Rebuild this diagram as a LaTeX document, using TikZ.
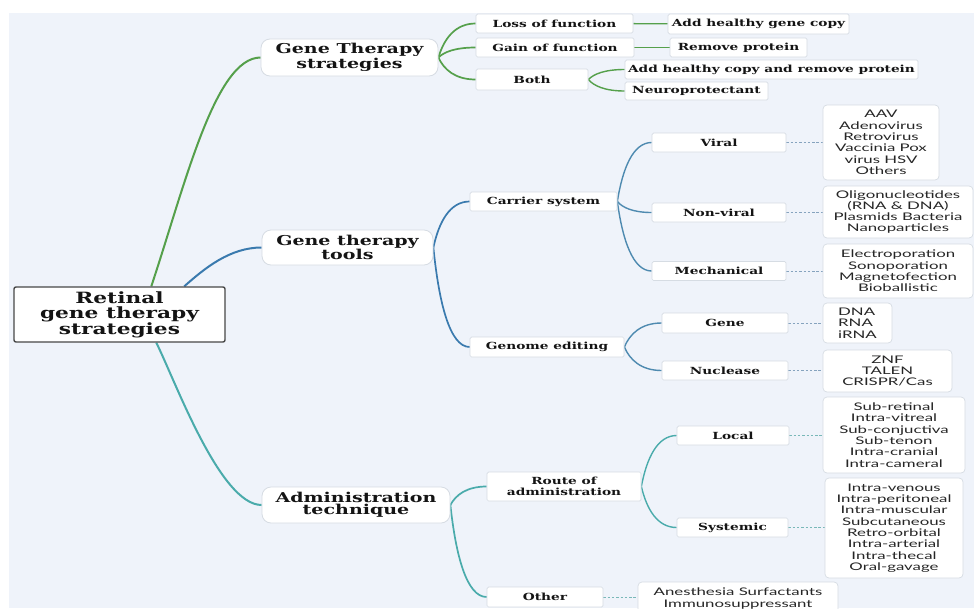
\documentclass[tikz,border=0pt]{standalone}
\usepackage{fontspec}
\usetikzlibrary{calc}
\newfontfamily\hdfont{DejaVu Serif}[FakeStretch=1.4]
\newfontfamily\lsfont{Lato}[FakeStretch=1.6]
\definecolor{cgreen}{HTML}{55A04B}
\definecolor{cblue}{HTML}{3A7AAE}
\definecolor{csteel}{HTML}{4E8AB0}
\definecolor{cteal}{HTML}{4AABAB}
\definecolor{cdash}{HTML}{86A3BE}
\definecolor{cdasht}{HTML}{79B8B8}
\definecolor{bgc}{HTML}{EFF3FA}
\definecolor{bord}{HTML}{D6DCE3}
\pgfdeclarelayer{back}
\pgfdeclarelayer{edges}
\pgfsetlayers{back,edges,main}
\tikzset{
  box/.style={fill=white, inner sep=0pt, align=center, text=black!92},
  rootbox/.style={box, draw=black!72, line width=1.4pt, rounded corners=2pt,
    font=\hdfont\bfseries\fontsize{15.5}{15}\selectfont},
  topic/.style={box, draw=bord, line width=0.8pt, rounded corners=9pt,
    font=\hdfont\bfseries\fontsize{13.6}{12}\selectfont},
  sub/.style={box, draw=bord, line width=0.7pt, rounded corners=1.5pt,
    font=\hdfont\bfseries\fontsize{9.8}{12}\selectfont},
  leaf/.style={box, draw=bord, line width=0.7pt, rounded corners=4pt,
    font=\lsfont\fontsize{10.5}{11.3}\selectfont, text=black!85},
  e1/.style={line width=2pt},
  e2/.style={line width=1.7pt},
  e3/.style={line width=1.4pt},
  dsh/.style={line width=1pt, dash pattern=on 2.5pt off 1.8pt},
}
\newcommand\mmcurve[3]{\draw[#1] let \p1=(#2.east), \p2=(#3.west) in (\p1) .. controls ({\x1+0.15*(\x2-\x1)},{\y1+0.55*(\y2-\y1)}) and ({\x1+0.45*(\x2-\x1)},{\y2}) .. (\p2);}
\begin{document}
\begin{tikzpicture}[x=1pt,y=-1pt]
\useasboundingbox (0,0) rectangle (974,608);
% ---------- nodes ----------
\node[rootbox, minimum width=211pt, minimum height=55pt] (root) at (119.5,314.5) {Retinal\\gene therapy\\strategies};
\node[topic, minimum width=177pt, minimum height=37pt] (gts) at (349.5,57.5) {Gene Therapy\\strategies};
\node[topic, minimum width=171pt, minimum height=35pt] (gtt) at (347.5,247.5) {Gene therapy\\tools};
\node[topic, minimum width=188pt, minimum height=36pt] (adm) at (356,505) {Administration\\technique};
% strategies
\node[sub, minimum width=157pt, minimum height=19pt] (loss) at (554.5,23.5) {Loss of function};
\node[sub, minimum width=158pt, minimum height=19pt] (gain) at (555,47.5) {Gain of function};
\node[sub, minimum width=112pt, minimum height=21pt] (both) at (532,79.5) {Both};
\node[sub, minimum width=181pt, minimum height=20pt] (addgene) at (758.5,24) {Add healthy gene copy};
\node[sub, minimum width=137pt, minimum height=19pt] (remove) at (738.5,47.5) {Remove protein};
\node[sub, minimum width=293pt, minimum height=19pt] (addboth) at (771.5,69.5) {Add healthy copy and remove protein};
\node[sub, minimum width=143pt, minimum height=18pt] (neuro) at (696.5,91) {Neuroprotectant};
% tools
\node[sub, minimum width=147pt, minimum height=19pt] (carrier) at (543.5,201.5) {Carrier system};
\node[sub, minimum width=154pt, minimum height=20pt] (genome) at (547,347) {Genome editing};
\node[sub, minimum width=134pt, minimum height=19pt] (viral) at (719,142.5) {Viral};
\node[sub, minimum width=134pt, minimum height=19pt] (nonviral) at (719,212.5) {Non-viral};
\node[sub, minimum width=134pt, minimum height=19pt] (mech) at (719,271) {Mechanical};
\node[sub, minimum width=126pt, minimum height=20pt] (gene) at (725,323) {Gene};
\node[sub, minimum width=126pt, minimum height=19pt] (nuclease) at (725,370.5) {Nuclease};
\node[leaf, minimum width=116pt, minimum height=75pt] (lviral) at (881,142.5) {AAV\\Adenovirus\\Retrovirus\\Vaccinia Pox\\virus HSV\\Others};
\node[leaf, minimum width=150pt, minimum height=52pt] (lnonviral) at (898,212) {Oligonucleotides\\(RNA \& DNA)\\Plasmids Bacteria\\Nanoparticles};
\node[leaf, minimum width=150pt, minimum height=54pt] (lmech) at (898,271) {Electroporation\\Sonoporation\\Magnetofection\\Bioballistic};
\node[leaf, minimum width=69pt, minimum height=40pt, align=left] (lgene) at (857.5,323) {DNA\\RNA\\iRNA};
\node[leaf, minimum width=129pt, minimum height=42pt] (lnuc) at (887.5,371) {ZNF\\TALEN\\CRISPR/Cas};
% administration
\node[sub, minimum width=154pt, minimum height=29pt, font=\hdfont\bfseries\fontsize{9.8}{10.5}\selectfont] (route) at (564,486.5) {Route of\\administration};
\node[sub, minimum width=116pt, minimum height=20pt] (other) at (545,597) {Other};
\node[sub, minimum width=112pt, minimum height=19pt] (local) at (733,435.5) {Local};
\node[sub, minimum width=111pt, minimum height=19pt] (systemic) at (732.5,527.5) {Systemic};
\node[leaf, minimum width=142pt, minimum height=76pt] (llocal) at (894,435) {Sub-retinal\\Intra-vitreal\\Sub-conjuctiva\\Sub-tenon\\Intra-cranial\\Intra-cameral};
\node[leaf, minimum width=138pt, minimum height=100pt] (lsys) at (894,528) {Intra-venous\\Intra-peritoneal\\Intra-muscular\\Subcutaneous\\Retro-orbital\\Intra-arterial\\Intra-thecal\\Oral-gavage};
\node[leaf, minimum width=200pt, minimum height=33pt] (lother) at (738,598.5) {Anesthesia Surfactants\\Immunosuppressant};
% root edge anchors
\coordinate (rg) at ($(root.north west)+(138,0)$);
\coordinate (rb) at ($(root.north west)+(171,0)$);
\coordinate (rt) at ($(root.south west)+(143,0)$);
% ---------- background and edges ----------
\begin{pgfonlayer}{back}
  \fill[white] (0,0) rectangle (974,608);
  \fill[bgc] (9,13) rectangle (974,608);
\end{pgfonlayer}
\begin{pgfonlayer}{edges}
  \draw[cgreen, e1] (rg) .. controls (185,185) and (215,57.5) .. (gts.west);
  \draw[cblue, e1] (rb) .. controls (205,268) and (230,247.5) .. (gtt.west);
  \draw[cteal, e1] (rt) .. controls (175,380) and (220,505) .. (adm.west);
  \mmcurve{cgreen,e2}{gts}{loss}
  \mmcurve{cgreen,e2}{gts}{gain}
  \mmcurve{cgreen,e2}{gts}{both}
  \draw[cgreen, e3] (loss) -- (addgene);
  \draw[cgreen, e3] (gain) -- (remove);
  \mmcurve{cgreen,e3}{both}{addboth}
  \mmcurve{cgreen,e3}{both}{neuro}
  \mmcurve{cblue,e2}{gtt}{carrier}
  \mmcurve{cblue,e2}{gtt}{genome}
  \mmcurve{csteel,e3}{carrier}{viral}
  \mmcurve{csteel,e3}{carrier}{nonviral}
  \mmcurve{csteel,e3}{carrier}{mech}
  \mmcurve{csteel,e3}{genome}{gene}
  \mmcurve{csteel,e3}{genome}{nuclease}
  \mmcurve{cteal,e2}{adm}{route}
  \mmcurve{cteal,e2}{adm}{other}
  \mmcurve{cteal,e3}{route}{local}
  \mmcurve{cteal,e3}{route}{systemic}
  \draw[cdash, dsh] (viral) -- (lviral);
  \draw[cdash, dsh] (nonviral.east) -- (nonviral.east -| lnonviral.west);
  \draw[cdash, dsh] (mech.east) -- (mech.east -| lmech.west);
  \draw[cdash, dsh] (gene) -- (lgene);
  \draw[cdash, dsh] (nuclease.east) -- (nuclease.east -| lnuc.west);
  \draw[cdasht, dsh] (local.east) -- (local.east -| llocal.west);
  \draw[cdasht, dsh] (systemic.east) -- (systemic.east -| lsys.west);
  \draw[cdasht, dsh] (other.east) -- (other.east -| lother.west);
\end{pgfonlayer}
\end{tikzpicture}
\end{document}
